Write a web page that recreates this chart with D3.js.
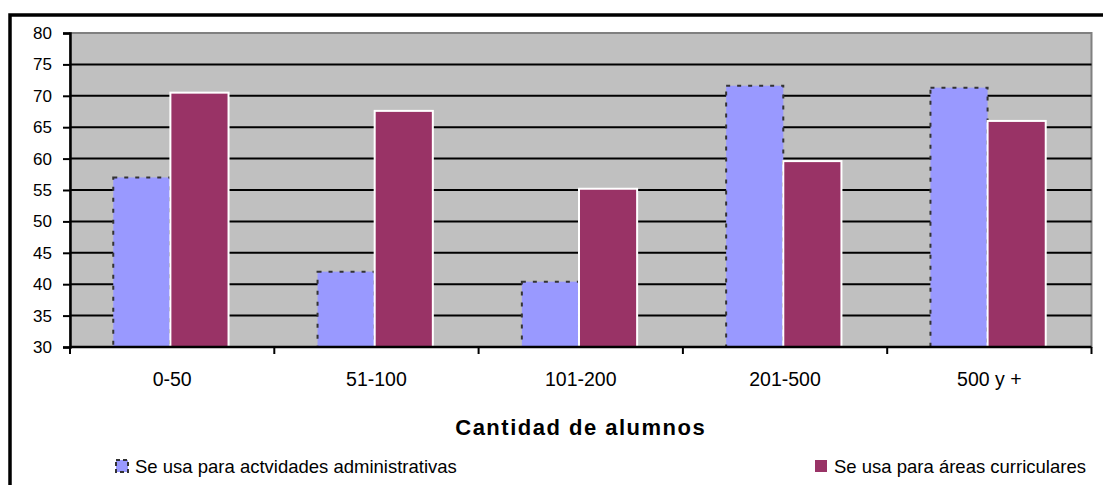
<!DOCTYPE html>
<html>
<head>
<meta charset="utf-8">
<script src="https://cdn.jsdelivr.net/npm/d3@7"></script>
<style>
  body { margin: 0; background: #ffffff; }
  svg { display: block; }
</style>
</head>
<body>
<div id="chart"></div>
<script>
// Chart data
var categories = ["0-50", "51-100", "101-200", "201-500", "500 y +"];
var seriesNames = ["Se usa para actvidades administrativas", "Se usa para áreas curriculares"];
var administrativas = [57.0, 42.0, 40.4, 71.6, 71.3];
var curriculares = [70.5, 67.6, 55.2, 59.6, 66.0];
var yTicks = [30, 35, 40, 45, 50, 55, 60, 65, 70, 75, 80];
var xTitle = "Cantidad de alumnos";

function init() {
  var w = 1103;
  var h = 485;
  var left = 70, right = 1091.5, top = 33, bottom = 347;
  var blue = "#9999FF";
  var maroon = "#993366";
  var font = "Arial, 'Liberation Sans', sans-serif";

  var svg = d3.select("#chart")
    .append("svg")
    .attr("width", w)
    .attr("height", h);

  // outer frame (runs off the right and bottom of the picture)
  svg.append("rect")
    .attr("x", 10).attr("y", 15)
    .attr("width", 1200).attr("height", 600)
    .attr("fill", "none")
    .attr("stroke", "#000")
    .attr("stroke-width", 3.5);

  // scales
  var x0 = d3.scaleBand()
    .domain(categories)
    .range([left, right])
    .padding(0);
  var x1 = d3.scaleBand()
    .domain(seriesNames)
    .range([0, x0.bandwidth()])
    .paddingInner(0)
    .paddingOuter(0.757)
    .align(0.48);
  var y = d3.scaleLinear()
    .domain([30, 80])
    .range([bottom, top]);

  // plot area
  svg.append("rect")
    .attr("x", left).attr("y", top)
    .attr("width", right - left).attr("height", bottom - top)
    .attr("fill", "#C0C0C0")
    .attr("stroke", "#808080")
    .attr("stroke-width", 2);

  // gridlines
  svg.append("g")
    .selectAll("line")
    .data(yTicks.filter(function (d) { return d > 30 && d < 80; }))
    .enter()
    .append("line")
    .attr("x1", left).attr("x2", right)
    .attr("y1", function (d) { return y(d); })
    .attr("y2", function (d) { return y(d); })
    .attr("stroke", "#000")
    .attr("stroke-width", 2);

  // bars
  var rows = categories.map(function (c, i) {
    return { cat: c, vals: [administrativas[i], curriculares[i]] };
  });
  var groups = svg.append("g")
    .selectAll("g")
    .data(rows)
    .enter()
    .append("g")
    .attr("transform", function (d) { return "translate(" + x0(d.cat) + ",0)"; });

  // administrative series: blue with dashed dark border
  groups.append("rect")
    .attr("x", x1(seriesNames[0]) + 1)
    .attr("y", function (d) { return y(d.vals[0]); })
    .attr("width", x1.bandwidth() - 1)
    .attr("height", function (d) { return bottom - y(d.vals[0]); })
    .attr("fill", blue)
    .attr("stroke", "#333")
    .attr("stroke-width", 2)
    .attr("stroke-dasharray", "4,7");

  // curricular series: maroon with white border
  groups.append("rect")
    .attr("x", x1(seriesNames[1]))
    .attr("y", function (d) { return y(d.vals[1]); })
    .attr("width", x1.bandwidth())
    .attr("height", function (d) { return bottom - y(d.vals[1]); })
    .attr("fill", maroon)
    .attr("stroke", "#fff")
    .attr("stroke-width", 2);

  // y axis
  var yAxis = d3.axisLeft(y)
    .tickValues(yTicks)
    .tickSize(7)
    .tickPadding(11)
    .tickFormat(d3.format("d"));
  var gy = svg.append("g")
    .attr("transform", "translate(" + left + ",0)")
    .call(yAxis);
  gy.select(".domain").attr("stroke", "#000").attr("stroke-width", 2.5);
  gy.selectAll(".tick line").attr("stroke", "#000").attr("stroke-width", 2);
  gy.selectAll(".tick text")
    .style("font-family", font)
    .style("font-size", "17px")
    .attr("fill", "#000");

  // x axis: ticks at the category boundaries
  var gx = svg.append("g");
  gx.append("line")
    .attr("x1", left).attr("x2", right)
    .attr("y1", bottom).attr("y2", bottom)
    .attr("stroke", "#000")
    .attr("stroke-width", 2.5);
  var bounds = categories.map(function (c) { return x0(c); }).concat([right]);
  gx.selectAll("line.tick")
    .data(bounds)
    .enter()
    .append("line")
    .attr("class", "tick")
    .attr("x1", function (d) { return d; })
    .attr("x2", function (d) { return d; })
    .attr("y1", bottom).attr("y2", bottom + 7)
    .attr("stroke", "#000")
    .attr("stroke-width", 2);
  gx.selectAll("text")
    .data(categories)
    .enter()
    .append("text")
    .attr("x", function (d) { return x0(d) + x0.bandwidth() / 2; })
    .attr("y", 386)
    .attr("text-anchor", "middle")
    .style("font-family", font)
    .style("font-size", "19.5px")
    .text(function (d) { return d; });

  // x axis title
  svg.append("text")
    .attr("x", (left + right) / 2)
    .attr("y", 435)
    .attr("text-anchor", "middle")
    .style("font-family", font)
    .style("font-size", "22px")
    .style("font-weight", "bold")
    .style("letter-spacing", "1.5px")
    .text(xTitle);

  // legend
  var legendX = [115, 814];
  var legend = svg.append("g")
    .selectAll("g")
    .data(seriesNames)
    .enter()
    .append("g")
    .attr("transform", function (d, i) { return "translate(" + legendX[i] + ",459)"; });
  legend.append("rect")
    .attr("x", 1).attr("y", 1)
    .attr("width", 12).attr("height", 12)
    .attr("fill", function (d, i) { return i === 0 ? blue : maroon; })
    .attr("stroke", function (d, i) { return i === 0 ? "#333" : "none"; })
    .attr("stroke-width", 2)
    .attr("stroke-dasharray", "4,3");
  legend.append("text")
    .attr("x", 20)
    .attr("y", 14)
    .style("font-family", font)
    .style("font-size", "18.5px")
    .text(function (d) { return d; });
}

window.onload = init;
</script>
</body>
</html>
